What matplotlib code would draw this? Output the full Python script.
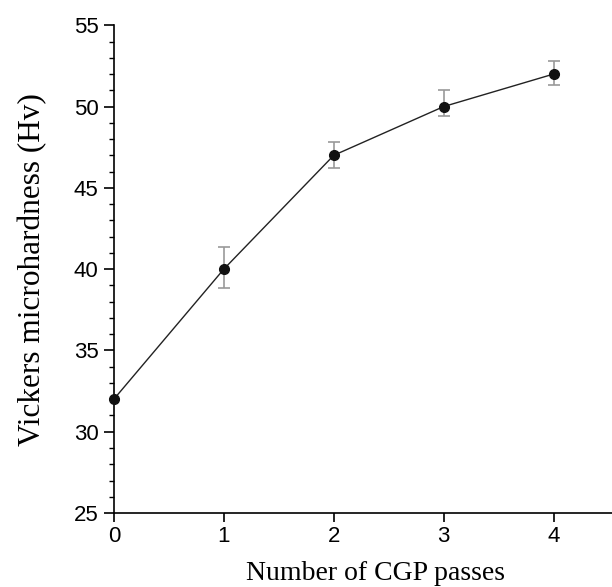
import matplotlib
matplotlib.use("Agg")
import matplotlib.pyplot as plt
from matplotlib.ticker import MultipleLocator

passes = [0, 1, 2, 3, 4]
hardness = [32, 40, 47, 50, 52]
err_low = [0, 1.15, 0.8, 0.6, 0.65]
err_high = [0, 1.35, 0.8, 1.0, 0.8]

fig = plt.figure(figsize=(6.12, 5.87), dpi=100)
ax = fig.add_axes([0.186, 0.126, 0.814, 0.831])

ax.errorbar(passes, hardness, yerr=[err_low, err_high], fmt='none',
            ecolor='#999999', elinewidth=1.2, capsize=4.5, capthick=1.2, zorder=2)
ax.plot(passes, hardness, color='#222222', lw=1.0, marker='o', ms=7,
        mfc='#111111', mec='#111111', zorder=3, clip_on=False)

ax.set_xlim(0, 4.53)
ax.set_ylim(25, 55)
ax.xaxis.set_major_locator(MultipleLocator(1))
ax.yaxis.set_major_locator(MultipleLocator(5))
ax.yaxis.set_minor_locator(MultipleLocator(1))

for s in ['top', 'right']:
    ax.spines[s].set_visible(False)
for s in ['left', 'bottom']:
    ax.spines[s].set_linewidth(1.2)

ax.tick_params(axis='y', which='major', direction='out', length=7, width=1.2,
               labelsize=16, pad=4)
ax.tick_params(axis='y', which='minor', direction='out', length=3.5, width=1.0)
ax.tick_params(axis='x', which='major', direction='out', length=6.5, width=1.2,
               labelsize=16, pad=3)
for lab in ax.get_xticklabels() + ax.get_yticklabels():
    lab.set_fontfamily('Liberation Sans')

ax.set_xlabel('Number of CGP passes', fontfamily='Liberation Serif', fontsize=20, labelpad=10)
ax.xaxis.label.set_x(0.526)
ax.set_ylabel('Vickers microhardness (Hv)', fontfamily='Liberation Serif', fontsize=22.5, labelpad=19)

fig.savefig('out.png', dpi=100)
